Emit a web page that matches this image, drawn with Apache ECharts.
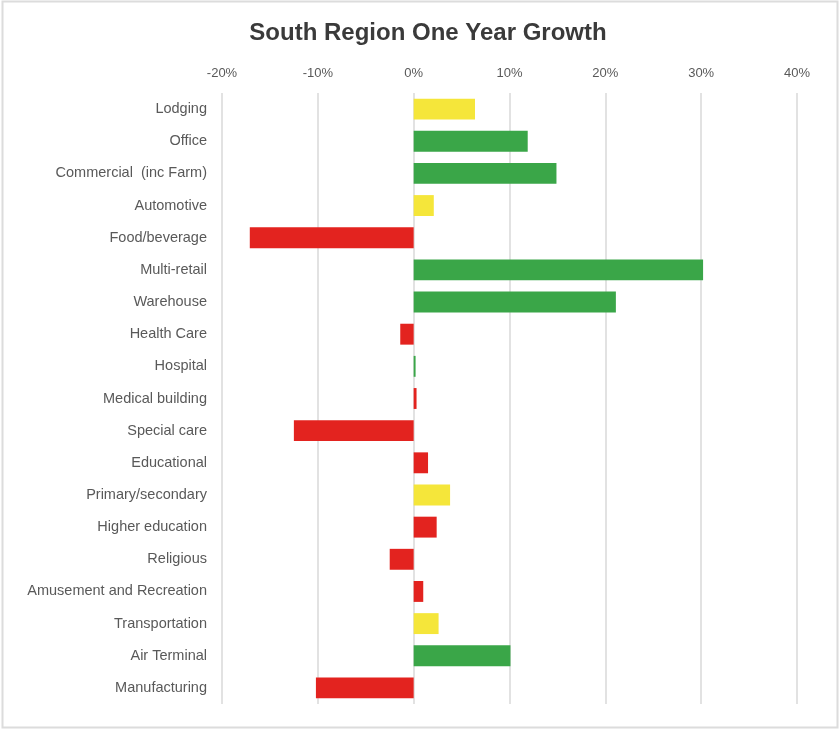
<!DOCTYPE html>
<html>
<head>
<meta charset="utf-8">
<script src="https://cdn.jsdelivr.net/npm/echarts@6/dist/echarts.min.js"></script>
<style>
  html, body { margin: 0; padding: 0; background: #ffffff; }
  #chart { width: 840px; height: 730px; }
</style>
</head>
<body>
<div id="chart"></div>
<script>
// Building sectors, top to bottom
const categories = [
  'Lodging', 'Office', 'Commercial  (inc Farm)', 'Automotive', 'Food/beverage',
  'Multi-retail', 'Warehouse', 'Health Care', 'Hospital', 'Medical building',
  'Special care', 'Educational', 'Primary/secondary', 'Higher education',
  'Religious', 'Amusement and Recreation', 'Transportation', 'Air Terminal',
  'Manufacturing'
];

// One-year growth, percent
const growth = [
  6.4, 11.9, 14.9, 2.1, -17.1,
  30.2, 21.1, -1.4, 0.2, 0.3,
  -12.5, 1.5, 3.8, 2.4,
  -2.5, 1.0, 2.6, 10.1,
  -10.2
];

// Status of each sector: g = strong, y = moderate, r = weak
const status = [
  'y', 'g', 'g', 'y', 'r',
  'g', 'g', 'r', 'g', 'r',
  'r', 'r', 'y', 'r',
  'r', 'r', 'y', 'g',
  'r'
];

// Axis ticks, percent
const tickValues = [-20, -10, 0, 10, 20, 30, 40];

const statusColors = { g: '#3aa648', y: '#f5e63a', r: '#e3231f' };

const chart = echarts.init(document.getElementById('chart'));

chart.setOption({
  backgroundColor: '#ffffff',
  animation: false,
  title: {
    text: 'South Region One Year Growth',
    left: 423,
    textAlign: 'center',
    top: 16,
    textStyle: {
      fontFamily: 'Liberation Sans, Arial, sans-serif',
      fontSize: 24,
      fontWeight: 'bold',
      color: '#3a3a3a'
    }
  },
  graphic: [{
    type: 'rect',
    shape: { x: 2.5, y: 1.5, width: 835, height: 726 },
    style: { fill: 'none', stroke: '#dcdcdc', lineWidth: 2 },
    silent: true
  }],
  grid: { left: 222, right: 43, top: 93, bottom: 26 },
  xAxis: {
    type: 'value',
    position: 'top',
    min: tickValues[0],
    max: tickValues[tickValues.length - 1],
    interval: 10,
    axisLine: { show: false },
    axisTick: { show: false },
    axisLabel: {
      formatter: v => v + '%',
      fontFamily: 'Liberation Sans, Arial, sans-serif',
      fontSize: 13,
      color: '#595959',
      margin: 13
    },
    splitLine: { lineStyle: { color: '#d9d9d9', width: 1.5 } }
  },
  yAxis: {
    type: 'category',
    data: categories,
    inverse: true,
    axisLine: { show: false },
    axisTick: { show: false },
    axisLabel: {
      fontFamily: 'Liberation Sans, Arial, sans-serif',
      fontSize: 14.5,
      color: '#595959',
      margin: 15
    }
  },
  series: [{
    type: 'bar',
    data: growth.map((v, i) => ({
      value: v,
      itemStyle: { color: statusColors[status[i]] }
    })),
    barCategoryGap: '35%'
  }]
});
</script>
</body>
</html>
